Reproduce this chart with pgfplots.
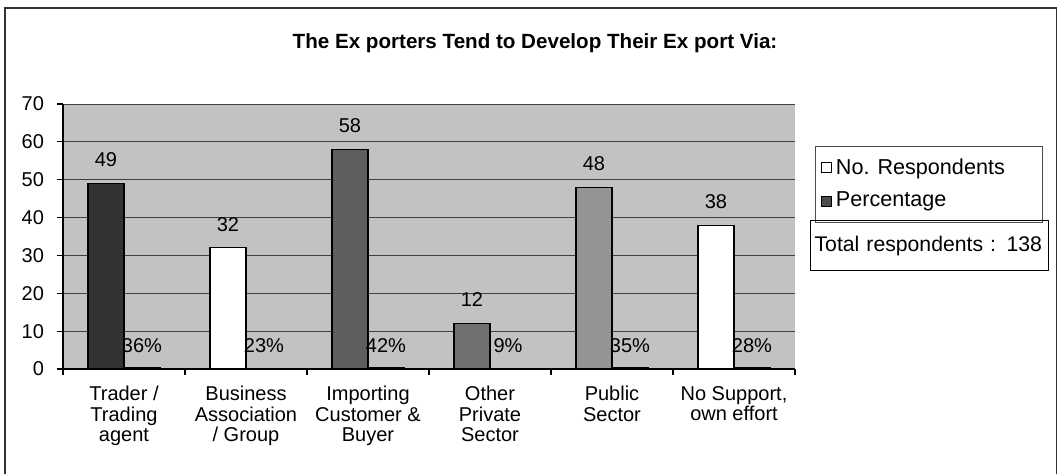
\documentclass[border=0pt]{standalone}
\usepackage{fontspec}
\setmainfont{Liberation Sans}
\usepackage{pgfplots}
\pgfplotsset{compat=1.18}
\begin{document}
\begin{tikzpicture}
\useasboundingbox (0,0) rectangle (529pt,-236.5pt);
\draw[black!80, line width=0.6pt] (2.5pt,-240pt) -- (2.5pt,-4pt) -- (528.3pt,-4pt) -- (528.3pt,-240pt);
\node[font=\bfseries\fontsize{10.3}{12}\selectfont] at (267.5pt,-21.5pt) {The Ex porters Tend to Develop Their Ex port Via:};
\begin{axis}[
  at={(31.5pt,-184.5pt)}, anchor=south west,
  scale only axis, width=366pt, height=132.5pt,
  xmin=-0.5, xmax=5.5, ymin=0, ymax=70,
  axis lines*=left,
  axis line style={black, line width=0.6pt},
  axis background/.style={fill=black!24},
  ytick={0,10,...,70},
  ymajorgrids, grid style={black!75, line width=0.5pt},
  xtick={0,...,5},
  xticklabels={{Trader /\\Trading\\agent},{Business\\Association\\/ Group},{Importing\\Customer \&\\Buyer},{Other\\Private\\Sector},{Public\\Sector},{No Support,\\own effort}},
  minor xtick={-0.5,0.5,...,5.5},
  major x tick style={draw=none},
  minor x tick style={black, line width=0.6pt},
  tick align=outside,
  major tick length=3pt, minor tick length=3pt,
  y tick style={black, line width=0.6pt},
  /pgf/number format/assume math mode=true,
  yticklabel style={font=\fontsize{10}{12}\selectfont, xshift=-3pt},
  xticklabel style={font=\fontsize{10}{10.3}\selectfont, align=center, anchor=north, yshift=-2pt},
  legend style={at={(1.027,0.8415)}, anchor=north west, draw=black!70, font=\fontsize{10.8}{12}\selectfont,
    inner xsep=3pt, inner ysep=4pt, row sep=3.5pt, cells={anchor=west}},
  legend image code/.code={\draw[#1, draw=black] (0pt,-2.5pt) rectangle (5pt,2.5pt);},
  every node near coord/.append style={font=\fontsize{10}{12}\selectfont, black},
]
\addlegendimage{fill=white}
\addlegendentry{No. Respondents\hspace*{14pt}}
\addlegendimage{fill=black!70}
\addlegendentry{Percentage}
\pgfplotsset{resp/.style={ybar, bar width=18pt, bar shift=-9pt, draw=black, line width=0.6pt, forget plot,
  nodes near coords, every node near coord/.append style={anchor=south, inner sep=0pt, yshift=8pt, xshift=-9pt}}}
\addplot[resp, fill=black!80] coordinates {(0,49)};
\addplot[resp, fill=white] coordinates {(1,32)};
\addplot[resp, fill=black!63] coordinates {(2,58)};
\addplot[resp, fill=black!56] coordinates {(3,12)};
\addplot[resp, fill=black!42] coordinates {(4,48)};
\addplot[resp, fill=white] coordinates {(5,38)};
\addplot[ybar, bar width=18pt, bar shift=9pt, fill=black, draw=black, line width=0.6pt, forget plot]
  coordinates {(0,0.36) (1,0.23) (2,0.42) (3,0.09) (4,0.35) (5,0.28)};
\addplot[only marks, mark=none, forget plot, point meta=explicit symbolic, nodes near coords,
  every node near coord/.append style={anchor=base, inner sep=0pt, yshift=8.5pt, xshift=9pt}]
  coordinates {(0,0)[36\%] (1,0)[23\%] (2,0)[42\%] (3,0)[9\%] (4,0)[35\%] (5,0)[28\%]};
\end{axis}
\node[draw=black, line width=0.6pt, anchor=north west, text width=115pt, align=left, inner xsep=2pt, minimum height=25pt, font=\fontsize{10.6}{12}\selectfont] at (405pt,-110pt) {\mbox{Total respondents : 138}};
\end{tikzpicture}
\end{document}
